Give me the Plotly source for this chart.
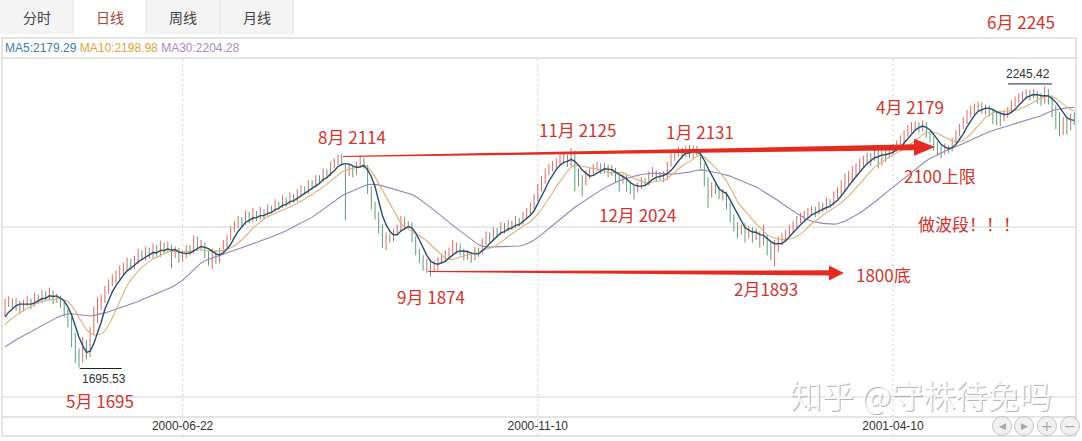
import plotly.graph_objects as go
import pandas as pd

# ---------------- data ----------------
tick_idx = [48, 144, 240]
tick_text = ["2000-06-22", "2000-11-10", "2001-04-10"]

# closes just before the visible window (only feed the moving averages)
warmup_close = [1680, 1690, 1685, 1695, 1700, 1692, 1705, 1712, 1708, 1715,
                1720, 1712, 1725, 1730, 1722, 1735, 1740, 1732, 1745, 1750,
                1748, 1760, 1768, 1762, 1775, 1782, 1785, 1790, 1794]

closes = [
    1822, 1828, 1816, 1824, 1808, 1820, 1828, 1818, 1835, 1828,
    1841, 1833, 1843, 1828, 1833, 1818, 1806, 1785, 1752, 1722,
    1708, 1725, 1718, 1765, 1795, 1815, 1828, 1845, 1860, 1870,
    1875, 1886, 1890, 1902, 1894, 1906, 1920, 1912, 1925, 1916,
    1929, 1918, 1935, 1925, 1931, 1916, 1925, 1910, 1914, 1927,
    1922, 1945, 1933, 1935, 1918, 1910, 1920, 1906, 1925, 1937,
    1949, 1965, 1974, 1984, 1980, 1994, 1986, 1996, 1988, 2000,
    1994, 2008, 2004, 2017, 2012, 2023, 2017, 2031, 2025, 2037,
    2045, 2041, 2055, 2053, 2066, 2064, 2078, 2074, 2090, 2096,
    2106, 2098, 2082, 2086, 2078, 2092, 2102, 2096, 2043, 2014,
    1994, 1969, 1945, 1953, 1949, 1961, 1969, 1980, 1972, 1976,
    1945, 1922, 1910, 1896, 1902, 1890, 1898, 1902, 1910, 1916,
    1922, 1925, 1933, 1922, 1914, 1918, 1910, 1925, 1922, 1941,
    1953, 1949, 1961, 1959, 1972, 1965, 1976, 1972, 1984, 1980,
    1994, 2000, 2010, 2027, 2047, 2062, 2078, 2086, 2092, 2098,
    2102, 2107, 2096, 2111, 2078, 2066, 2058, 2070, 2078, 2086,
    2090, 2080, 2088, 2074, 2082, 2066, 2060, 2064, 2051, 2047,
    2043, 2049, 2062, 2058, 2072, 2078, 2068, 2072, 2066, 2092,
    2106, 2113, 2121, 2111, 2123, 2109, 2125, 2117, 2092, 2062,
    2033, 2053, 2043, 2033, 2037, 2014, 1988, 1974, 1961, 1969,
    1955, 1965, 1953, 1959, 1945, 1949, 1931, 1925, 1939, 1945,
    1951, 1959, 1967, 1974, 1984, 1990, 1994, 2000, 2004, 2000,
    2012, 2008, 2019, 2016, 2031, 2039, 2051, 2062, 2070, 2078,
    2086, 2096, 2102, 2109, 2106, 2117, 2106, 2119, 2111, 2121,
    2125, 2133, 2141, 2154, 2164, 2168, 2174, 2164, 2170, 2152,
    2141, 2131, 2121, 2117, 2127, 2123, 2141, 2152, 2168, 2180,
    2192, 2199, 2205, 2209, 2199, 2203, 2197, 2192, 2188, 2186,
    2190, 2199, 2211, 2219, 2225, 2229, 2235, 2227, 2233, 2223,
    2219, 2235, 2225, 2205, 2190, 2170, 2180, 2176, 2187, 2183,
]

opens = [
    1800, 1820, 1826, 1815, 1822, 1810, 1821, 1827, 1818, 1834,
    1826, 1840, 1832, 1842, 1827, 1834, 1818, 1808, 1786, 1750,
    1724, 1710, 1727, 1720, 1766, 1796, 1814, 1829, 1846, 1861,
    1868, 1874, 1888, 1891, 1903, 1893, 1905, 1921, 1910, 1926,
    1915, 1930, 1917, 1936, 1924, 1932, 1914, 1926, 1908, 1915,
    1926, 1921, 1944, 1932, 1936, 1917, 1908, 1921, 1905, 1924,
    1936, 1950, 1964, 1975, 1985, 1979, 1995, 1985, 1997, 1987,
    2001, 1993, 2009, 2003, 2018, 2011, 2024, 2016, 2032, 2024,
    2036, 2046, 2040, 2056, 2052, 2067, 2063, 2079, 2073, 2091,
    2095, 2107, 2090, 2083, 2087, 2079, 2093, 2101, 2090, 2045,
    2015, 1995, 1970, 1944, 1954, 1948, 1960, 1970, 1981, 1971,
    1975, 1946, 1921, 1911, 1895, 1903, 1889, 1897, 1903, 1909,
    1915, 1923, 1924, 1934, 1921, 1913, 1919, 1909, 1926, 1921,
    1940, 1954, 1948, 1962, 1958, 1973, 1964, 1977, 1971, 1985,
    1979, 1995, 1999, 2011, 2026, 2046, 2063, 2077, 2087, 2091,
    2097, 2103, 2108, 2095, 2110, 2077, 2067, 2057, 2071, 2077,
    2085, 2091, 2079, 2089, 2073, 2083, 2065, 2061, 2065, 2050,
    2048, 2042, 2050, 2063, 2057, 2073, 2079, 2067, 2073, 2065,
    2093, 2105, 2114, 2122, 2110, 2124, 2108, 2126, 2116, 2090,
    2062, 2032, 2052, 2044, 2032, 2036, 2013, 1989, 1973, 1960,
    1970, 1954, 1966, 1952, 1960, 1944, 1950, 1932, 1924, 1938,
    1944, 1950, 1960, 1966, 1975, 1983, 1991, 1993, 2001, 2005,
    1999, 2013, 2007, 2020, 2015, 2030, 2040, 2050, 2063, 2069,
    2077, 2087, 2095, 2103, 2110, 2105, 2118, 2105, 2120, 2110,
    2120, 2124, 2134, 2140, 2155, 2163, 2169, 2175, 2163, 2171,
    2153, 2140, 2132, 2120, 2116, 2128, 2122, 2140, 2153, 2167,
    2179, 2193, 2198, 2206, 2210, 2198, 2204, 2196, 2193, 2187,
    2185, 2191, 2200, 2210, 2220, 2224, 2230, 2236, 2226, 2234,
    2224, 2218, 2236, 2224, 2204, 2189, 2171, 2181, 2175, 2186,
]

highs = [
    1830, 1835, 1830, 1832, 1826, 1828, 1836, 1830, 1842, 1838,
    1848, 1845, 1852, 1846, 1840, 1836, 1825, 1810, 1794, 1763,
    1733, 1755, 1749, 1775, 1814, 1833, 1838, 1855, 1868, 1878,
    1885, 1895, 1900, 1910, 1908, 1914, 1928, 1925, 1932, 1930,
    1938, 1935, 1944, 1940, 1942, 1936, 1932, 1930, 1922, 1935,
    1935, 1954, 1952, 1945, 1940, 1925, 1928, 1925, 1930, 1945,
    1955, 1972, 1982, 1992, 1990, 2002, 2000, 2008, 2002, 2010,
    2005, 2015, 2012, 2025, 2020, 2032, 2028, 2038, 2035, 2045,
    2052, 2050, 2062, 2062, 2072, 2072, 2085, 2084, 2098, 2104,
    2112, 2114, 2092, 2095, 2090, 2098, 2110, 2106, 2092, 2050,
    2020, 2000, 1975, 1960, 1958, 1966, 1975, 1992, 1990, 1982,
    1980, 1952, 1928, 1915, 1908, 1906, 1905, 1912, 1918, 1925,
    1930, 1945, 1940, 1938, 1928, 1925, 1922, 1932, 1930, 1948,
    1962, 1960, 1970, 1968, 1980, 1978, 1984, 1982, 1992, 1988,
    2000, 2008, 2018, 2035, 2055, 2070, 2085, 2094, 2100, 2105,
    2112, 2118, 2112, 2125, 2120, 2085, 2072, 2082, 2086, 2094,
    2098, 2095, 2096, 2092, 2092, 2086, 2072, 2074, 2072, 2058,
    2052, 2058, 2068, 2066, 2080, 2088, 2082, 2078, 2080, 2098,
    2115, 2122, 2128, 2126, 2130, 2131, 2130, 2129, 2120, 2095,
    2068, 2058, 2056, 2050, 2045, 2040, 2018, 1995, 1980, 1975,
    1978, 1972, 1970, 1968, 1962, 1975, 1955, 1940, 1945, 1952,
    1958, 1965, 1975, 1982, 1992, 1998, 2002, 2008, 2012, 2010,
    2020, 2018, 2028, 2025, 2040, 2048, 2062, 2075, 2080, 2090,
    2095, 2104, 2110, 2116, 2115, 2124, 2120, 2125, 2122, 2128,
    2132, 2140, 2150, 2160, 2170, 2176, 2178, 2176, 2179, 2175,
    2158, 2148, 2138, 2130, 2134, 2130, 2145, 2160, 2172, 2186,
    2200, 2208, 2212, 2216, 2214, 2210, 2208, 2202, 2198, 2196,
    2198, 2205, 2218, 2226, 2232, 2236, 2240, 2238, 2240, 2236,
    2232, 2245.42, 2240, 2228, 2208, 2195, 2186, 2185, 2192, 2195,
]

lows = [
    1796, 1814, 1810, 1806, 1800, 1805, 1815, 1810, 1815, 1820,
    1822, 1826, 1828, 1820, 1822, 1812, 1795, 1774, 1735, 1704,
    1695.53, 1705, 1712, 1716, 1760, 1782, 1808, 1822, 1840, 1855,
    1860, 1868, 1878, 1885, 1886, 1888, 1898, 1905, 1905, 1908,
    1908, 1910, 1912, 1918, 1920, 1890, 1910, 1900, 1902, 1910,
    1915, 1918, 1928, 1925, 1910, 1895, 1888, 1898, 1900, 1918,
    1930, 1945, 1960, 1968, 1970, 1975, 1978, 1980, 1982, 1985,
    1985, 1990, 1998, 2000, 2005, 2008, 2010, 2014, 2018, 2020,
    2030, 2034, 2036, 2045, 2048, 2056, 2058, 2068, 2070, 2086,
    2092, 2094, 1984, 2070, 2068, 2072, 2090, 2085, 2035, 2005,
    1985, 1958, 1930, 1925, 1940, 1942, 1955, 1962, 1965, 1966,
    1940, 1915, 1900, 1885, 1880, 1874, 1882, 1885, 1898, 1902,
    1908, 1915, 1918, 1915, 1905, 1906, 1900, 1905, 1912, 1918,
    1935, 1940, 1944, 1950, 1955, 1958, 1962, 1965, 1968, 1972,
    1975, 1988, 1995, 2005, 2020, 2040, 2055, 2072, 2080, 2085,
    2090, 2095, 2088, 2090, 2040, 2050, 2030, 2052, 2065, 2070,
    2080, 2074, 2075, 2068, 2070, 2058, 2040, 2055, 2040, 2035,
    2024, 2038, 2045, 2050, 2052, 2068, 2060, 2062, 2058, 2062,
    2088, 2100, 2108, 2104, 2108, 2105, 2104, 2110, 2085, 2050,
    2008, 2028, 2035, 2025, 2022, 2005, 1980, 1962, 1948, 1955,
    1940, 1948, 1940, 1945, 1930, 1935, 1915, 1905, 1893, 1922,
    1935, 1942, 1952, 1960, 1968, 1978, 1982, 1988, 1992, 1990,
    1995, 2000, 2004, 2008, 2012, 2025, 2032, 2040, 2052, 2060,
    2070, 2080, 2088, 2095, 2090, 2100, 2085, 2090, 2098, 2105,
    2112, 2118, 2126, 2134, 2148, 2155, 2160, 2155, 2158, 2145,
    2135, 2120, 2110, 2105, 2112, 2115, 2118, 2135, 2148, 2162,
    2172, 2185, 2192, 2198, 2192, 2190, 2186, 2172, 2170, 2168,
    2178, 2184, 2195, 2205, 2212, 2218, 2222, 2218, 2222, 2212,
    2208, 2212, 2210, 2185, 2162, 2148, 2150, 2152, 2160, 2170,
]

tabs = ["分时", "日线", "周线", "月线"]
ma_header = ["MA5:2179.29", "MA10:2198.98", "MA30:2204.28"]

notes = [  # (text, pixel x, pixel y)
    ("6月 2245", 1021, 21), ("8月 2114", 352, 136), ("11月 2125", 577, 129),
    ("1月 2131", 700, 131), ("4月 2179", 910, 106), ("2100上限", 940, 175),
    ("12月 2024", 637, 215), ("做波段！！！", 969, 223), ("1800底", 883, 274),
    ("2月1893", 766, 288), ("9月 1874", 431, 296), ("5月 1695", 100, 400),
]

# ---------------- derived ----------------
n = len(closes)
idx = list(range(n))
allc = pd.Series(warmup_close + closes, dtype=float)


def moving(k):
    return allc.rolling(k).mean().iloc[len(warmup_close):].tolist()


ma5, ma10, ma30 = moving(5), moving(10), moving(30)

# ---------------- layout helpers (pixel -> paper) ----------------
FW, FH = 1082, 441
PL, PR, PT, PB = 2, 1076, 58, 417


def fx(p):
    return (p - PL) / (PR - PL)


def fy(p):
    return (PB - p) / (PB - PT)


PX_PER_BAR = 3.7
PRICE_PER_PX = 1.957
x_lo = -3 / PX_PER_BAR
x_hi = x_lo + (PR - PL) / PX_PER_BAR
y_hi = 2245.42 + (86.5 - PT) * PRICE_PER_PX
y_lo = y_hi - (PB - PT) * PRICE_PER_PX

RED = "#d0342c"
ARROW = "#e52b20"
CJK = "Noto Sans CJK SC"
LAT = "Liberation Sans, Arial, sans-serif"

fig = go.Figure()
fig.add_trace(go.Ohlc(
    x=idx, open=opens, high=highs, low=lows, close=closes,
    increasing=dict(line=dict(color="#dc6a62", width=1)),
    decreasing=dict(line=dict(color="#5f9a78", width=1)),
    tickwidth=0, hoverinfo="skip", showlegend=False))
for ser, col, w in [(ma30, "#9586b6", 1.1), (ma10, "#d9b277", 1.1), (ma5, "#234f6e", 1.4)]:
    fig.add_trace(go.Scatter(x=idx, y=ser, mode="lines",
                             line=dict(color=col, width=w),
                             hoverinfo="skip", showlegend=False))

shapes = []
# tabs
tab_edges = [0, 73, 146, 220, 293]
for k, t in enumerate(tabs):
    shapes.append(dict(type="rect", xref="paper", yref="paper",
                       x0=fx(tab_edges[k]), x1=fx(tab_edges[k + 1]),
                       y0=fy(34), y1=fy(-1), layer="below",
                       fillcolor="#ffffff" if k == 1 else "#f4f4f4",
                       line=dict(width=0)))
for e in tab_edges[1:]:
    shapes.append(dict(type="line", xref="paper", yref="paper",
                       x0=fx(e), x1=fx(e), y0=fy(34), y1=fy(0),
                       line=dict(color="#e2e2e2", width=1)))
# frame
shapes.append(dict(type="rect", xref="paper", yref="paper",
                   x0=fx(2), x1=fx(1076), y0=fy(436), y1=fy(38),
                   line=dict(color="#c9c9c9", width=1)))
for yy, col in [(58, "#c9c9c9"), (417, "#c9c9c9"), (227, "#d4d4d4"), (397, "#d4d4d4")]:
    shapes.append(dict(type="line", xref="paper", yref="paper", layer="below",
                       x0=fx(2), x1=fx(1076), y0=fy(yy), y1=fy(yy),
                       line=dict(color=col, width=1)))
for ti in tick_idx:
    shapes.append(dict(type="line", xref="x", yref="paper", layer="below",
                       x0=ti, x1=ti, y0=fy(436), y1=fy(58),
                       line=dict(color="#cfcfcf", width=1, dash="2px,3px")))


# tapered arrows (pixel geometry -> data coords)
def dx(p):
    return (p - 5) / PX_PER_BAR


def dy(p):
    return y_hi - (p - PT) * PRICE_PER_PX


def arrow(x0, y0, xb, xt, yt, w0, wb, hh):
    yb = y0 + (yt - y0) * (xb - x0) / (xt - x0)
    pts = [(x0, y0 - w0), (xb, yb - wb), (xb, yb - hh), (xt, yt),
           (xb, yb + hh), (xb, yb + wb), (x0, y0 + w0)]
    d = "M " + " L ".join(f"{dx(a):.3f},{dy(b):.2f}" for a, b in pts) + " Z"
    return dict(type="path", path=d, xref="x", yref="y",
                fillcolor=ARROW, line=dict(width=0), layer="above")


shapes.append(arrow(343, 156.5, 914, 935, 147, 0.5, 3.0, 8.5))
shapes.append(arrow(428, 271.5, 829, 844, 273, 0.5, 2.6, 7.5))

# low / high markers
imin = lows.index(min(lows))
imax = highs.index(max(highs))
shapes.append(dict(type="line", xref="x", yref="y",
                   x0=imin + 0.2, x1=imin + 0.2 + 42 / PX_PER_BAR,
                   y0=lows[imin] - 2, y1=lows[imin] - 2,
                   line=dict(color="#222", width=1)))
shapes.append(dict(type="line", xref="x", yref="y",
                   x0=imax + 2 - 44 / PX_PER_BAR, x1=imax + 2,
                   y0=highs[imax] + 5, y1=highs[imax] + 5,
                   line=dict(color="#222", width=1)))

# nav buttons
nav_x = [1002, 1024, 1047, 1070]
nav_glyph = ["◀", "▶", "+", "−"]
r = 9.5
for cx in nav_x:
    shapes.append(dict(type="circle", xref="paper", yref="paper",
                       x0=fx(cx - r), x1=fx(cx + r), y0=fy(426 + r), y1=fy(426 - r),
                       fillcolor="#f1f1f1", line=dict(color="#c4c4c4", width=1)))

ann = []
for k, t in enumerate(tabs):
    ann.append(dict(text=t, xref="paper", yref="paper",
                    x=fx((tab_edges[k] + tab_edges[k + 1]) / 2), y=fy(17),
                    showarrow=False, xanchor="center", yanchor="middle",
                    font=dict(family=CJK, size=14,
                              color="#a8453c" if k == 1 else "#444444")))
ma_cols = ["#3f7ea8", "#e2a440", "#a98bc3"]
ann.append(dict(text=" ".join(f"<span style='color:{c}'>{s}</span>"
                              for s, c in zip(ma_header, ma_cols)),
                xref="paper", yref="paper", x=fx(3), y=fy(48),
                showarrow=False, xanchor="left", yanchor="middle",
                font=dict(family=LAT, size=12)))
for t, px_, py_ in notes:
    ann.append(dict(text=t, xref="paper", yref="paper", x=fx(px_), y=fy(py_),
                    showarrow=False, xanchor="center", yanchor="middle",
                    font=dict(family=CJK, size=17, color=RED)))
ann.append(dict(text=f"{lows[imin]:.2f}", xref="x", yref="y",
                x=imin + 0.2, y=lows[imin], yshift=-3, showarrow=False,
                xanchor="left", yanchor="top",
                font=dict(family=LAT, size=12, color="#333")))
ann.append(dict(text=f"{highs[imax]:.2f}", xref="x", yref="y",
                x=imax + 2, y=highs[imax], yshift=4, showarrow=False,
                xanchor="right", yanchor="bottom",
                font=dict(family=LAT, size=12, color="#333")))
# watermark
for off, col in [(1.2, "rgba(120,120,120,0.55)"), (0, "rgba(255,255,255,0.92)")]:
    ann.append(dict(text="知乎 @守株待兔吗", xref="paper", yref="paper",
                    x=fx(920), y=fy(394), xshift=off, yshift=-off,
                    showarrow=False, xanchor="center", yanchor="middle",
                    font=dict(family=CJK, size=32, color=col)))
for cx, g in zip(nav_x, nav_glyph):
    ann.append(dict(text=g, xref="paper", yref="paper", x=fx(cx), y=fy(426),
                    showarrow=False, xanchor="center", yanchor="middle",
                    font=dict(family="DejaVu Sans", size=9 if g in "◀▶" else 14,
                              color="#a8a8a8")))
ann.append(dict(text="成交量 总手:1997.58万", xref="paper", yref="paper",
                x=fx(3), y=fy(436.5), showarrow=False, xanchor="left", yanchor="top",
                font=dict(family=CJK, size=11, color="#333")))

fig.update_layout(
    width=FW, height=FH,
    margin=dict(l=PL, r=FW - PR, t=PT, b=FH - PB),
    paper_bgcolor="white", plot_bgcolor="white",
    showlegend=False, hovermode=False,
    shapes=shapes, annotations=ann,
    xaxis=dict(range=[x_lo, x_hi], tickvals=tick_idx, ticktext=tick_text,
               showgrid=False, zeroline=False, showline=False, ticks="",
               tickfont=dict(family=LAT, size=12, color="#333"),
               rangeslider=dict(visible=False), fixedrange=True),
    yaxis=dict(range=[y_lo, y_hi], showgrid=False, zeroline=False,
               showline=False, showticklabels=False, ticks="", fixedrange=True),
)

fig.write_html("out.html", config={"displayModeBar": False},
               post_script="document.body.style.margin='0';document.body.style.overflow='hidden';")
